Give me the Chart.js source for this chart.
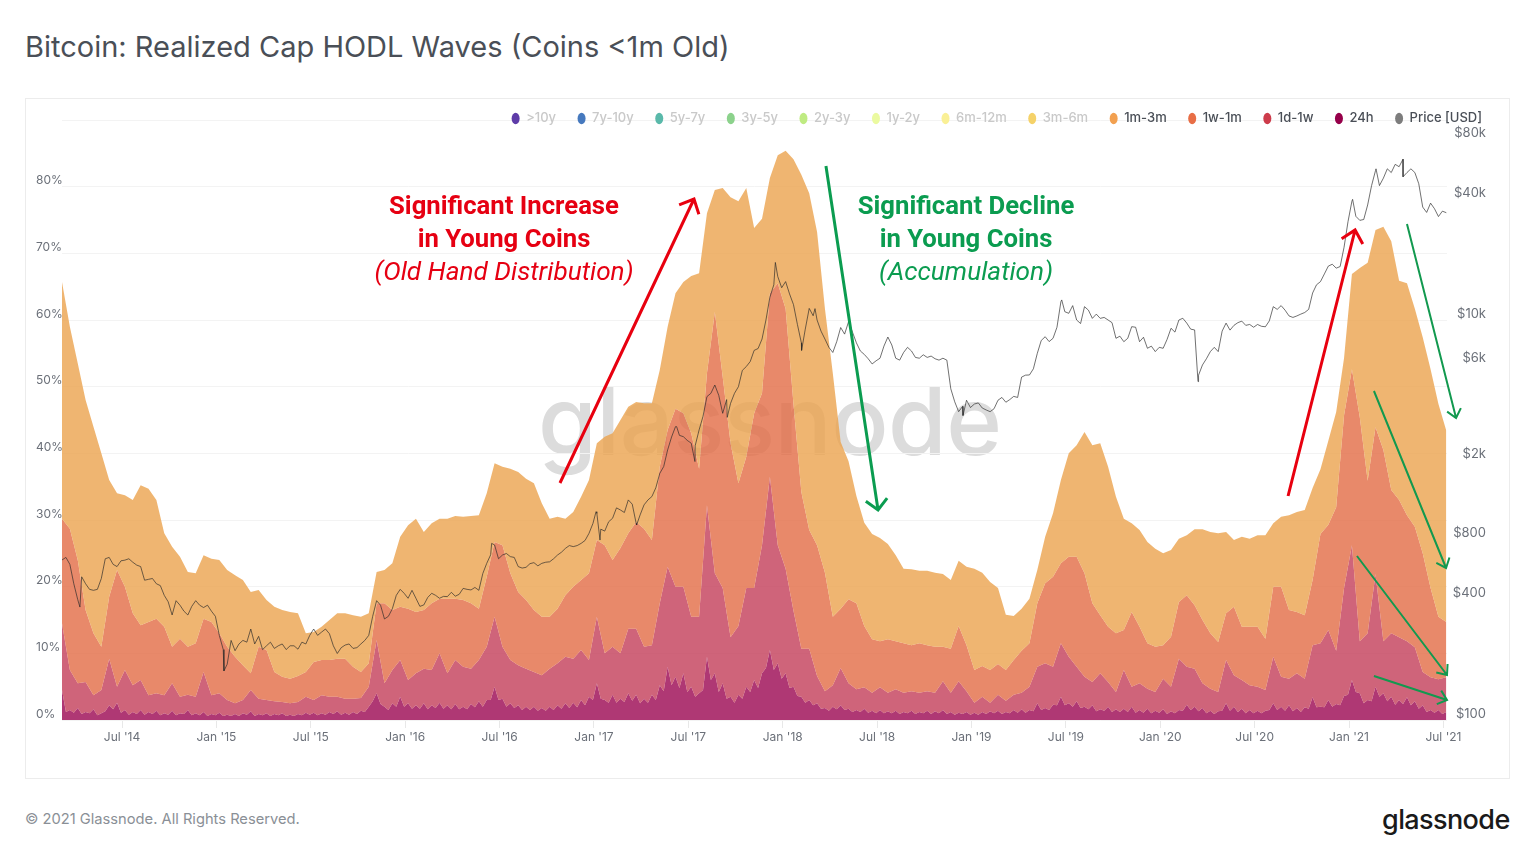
<!DOCTYPE html>
<html><head><meta charset="utf-8">
<script src="https://cdn.jsdelivr.net/npm/chart.js@4"></script>
<style>
html,body{margin:0;padding:0;background:#fff;width:1536px;height:860px;overflow:hidden}
.abs{position:absolute;white-space:nowrap}
#title{left:25px;top:29px;font:400 29px/36px Inter,sans-serif;color:#4a4f57}
#card{left:25px;top:98px;width:1483px;height:679px;border:1px solid #ececec;background:#fff}
#wm{left:538px;top:361px;font:500 95px/120px Inter,sans-serif;color:#dcdcdc;letter-spacing:-.5px}
#c{position:absolute;left:26px;top:99px}
.note{text-align:center;font:700 25.7px/33px Roboto,sans-serif;transform:translateX(-50%)}
.note i{font-weight:400;font-size:26.2px}
#n1{left:504px;top:189px;color:#e60012}
#n2{left:966px;top:189px;color:#0b9c50}
#foot{left:25px;top:810px;font:400 14.7px/18px Inter,sans-serif;color:#8a8f96}
#logo{left:1382px;top:802px;font:500 27px/36px Inter,sans-serif;color:#1a1a1a;letter-spacing:-.6px}
</style></head><body>
<div class="abs" id="title">Bitcoin: Realized Cap HODL Waves (Coins &lt;1m Old)</div>
<div class="abs" id="card"></div>
<div class="abs" id="wm">glassnode</div>
<canvas id="c" width="1483" height="679"></canvas>
<div class="abs note" id="n1">Significant Increase<br>in Young Coins<br><i>(Old Hand Distribution)</i></div>
<div class="abs note" id="n2">Significant Decline<br>in Young Coins<br><i>(Accumulation)</i></div>
<div class="abs" id="foot">© 2021 Glassnode. All Rights Reserved.</div>
<div class="abs" id="logo">glassnode</div>
<script>
// x positions are decimal years; samples are half-month apart
const startYear = 2014.182, endYear = 2021.519, sampleStep = 1/24;
const tickYears = [2014.5,2015,2015.5,2016,2016.5,2017,2017.5,2018,2018.5,2019,2019.5,2020,2020.5,2021,2021.5];
const tickLabels = ["Jul '14","Jan '15","Jul '15","Jan '16","Jul '16","Jan '17","Jul '17","Jan '18","Jul '18","Jan '19","Jul '19","Jan '20","Jul '20","Jan '21","Jul '21"];
const priceTicks = [100,400,800,2000,6000,10000,40000,80000];
const priceTickLabels = ["$100","$400","$800","$2k","$6k","$10k","$40k","$80k"];
const legendNames = [">10y","7y-10y","5y-7y","3y-5y","2y-3y","1y-2y","6m-12m","3m-6m","1m-3m","1w-1m","1d-1w","24h","Price [USD]"];
const legendColors = ["#5e3ca8","#4679be","#5ab9aa","#8cd28c","#bfeb82","#ebfaa0","#faf096","#f5d269","#f2a050","#e86e46","#cd3c4b","#96004a","#7d7d7d"];
const legendActive = [false,false,false,false,false,false,false,false,true,true,true,true,true];

// top edge of each stacked band, % of realized cap
const band1m3m = [65.7,59,53.5,48,44,40,36,34,33.7,33,35.2,34.7,33,28,26,24.5,22.2,22,24.7,24.2,
24,22.5,21.7,21,19.2,19.5,18,17,16.5,16.2,16,13,13.2,14,15,16,16,15.7,15.5,16,22.2,22.5,23.5,27.5,
29.2,30.2,28.2,29.5,30.2,30.2,30.6,30.5,30.6,30.7,34,38.5,38,37.7,37.2,36.2,35.5,32.5,30.2,30.5,30.2,31.2,33.5,36,41.5,42.5,43,45,47,47.7,47.5,47.5,52.5,59,64,65.7,66.6,
67,76,79.5,79.8,78.4,77.8,79.8,73.8,75.2,81.3,84.7,85.4,84.1,81.8,79,73.2,61.7,52,41.7,38.8,33.6,29.6,27.9,27.3,26.4,24.7,22.7,22.6,22.4,22.4,22.1,21.9,21,23.9,23,22.7,22.1,20.7,19.8,15.8,15.6,16.7,
18.2,22.5,27.5,31,36,40,41.2,43.2,41.2,41.5,38,33.5,30.2,29.5,28.5,26.7,25.7,25,25.5,27.2,27.7,28.6,28.6,28.2,28,28.2,27,27.5,27.2,27.7,27.7,29.5,30.5,30.7,31.2,31.5,
34.8,37.6,41.9,46.2,54.3,66.9,67.8,68.6,73.5,74,71.8,65.9,65.5,61.7,57.4,52.6,47.4,43.4];
const band1w1m = [30.2,28.7,24,16.5,13,11,18.5,22.5,20,16,14.2,14.7,15.2,14,11,12.2,11,11.5,15.2,14.7,13,11,9.5,8.2,7,11,10.5,7.2,6.5,6.2,6.6,7.2,8.7,9,9,9.2,9.2,8,7.2,8.5,17.5,17.5,16.5,17,
16.7,16.2,16.5,17.5,18.2,18.2,18.2,18,17.5,16.7,21.5,26.7,26.2,22,19.2,18,16.5,15.5,15.5,16.7,18.7,20,21,22,27,26.2,24,25.8,28,29.7,28.7,27,38,43.5,46.7,46,43,37.7,52,61.2,51.5,41.5,35.5,39.5,46,
49,64,65.5,61.7,47.4,34.2,28.5,26.2,22.1,15.5,16.7,18.1,17.5,14.1,12.1,11.8,12.1,11.8,11.5,11.2,11.5,11.2,11,11,10.7,14.1,11.2,7.5,8.1,7.5,8.4,7.5,9,10.4,
11.5,17.5,20.5,21.5,23.5,24.5,24.5,22,17.5,15.7,14,13,13.5,16.2,14,11.5,11,11.2,12.5,17.7,18.7,17.2,15,13,11.7,16,17,14,14,14,12.2,20,20,16.5,16.2,15.7,
21,27.9,29.3,31.9,45.7,52.6,45.4,35.9,43.9,40.5,34.5,33,30.7,29,25,19.8,15.5,14.7];
const band1d1w = [14.5,7.5,5.5,5.7,3.7,4.5,9.2,5,7.5,5.2,6,3.7,4,3.7,5.5,3.5,3.8,3.5,7.2,3.7,4,3,2.5,3,4.5,3.2,3,2.8,2.7,2.5,2.7,3.5,3,3.7,3.5,3.5,3.2,3.2,3.3,5,12,5.5,7.5,9,
6,7,7.7,7.5,10,7,9,8,7.7,9,11,15.5,11,9,8.2,7.7,7.2,6.7,7.7,8.5,9.5,9.2,10.5,9,15.5,10,11,10,13.7,13.7,11,11.2,17.5,23,20,20,15.5,15.5,32.2,22,19.8,12.4,14.1,19.8,19.8,
26.2,36.5,26.2,22.7,16.4,10.7,10.7,6.6,4.3,5.2,7.8,5.5,4.6,4.9,4.1,4.9,4.1,4.6,4.1,4.3,4.1,4.3,4.1,5.8,4.1,5.8,4.3,2.6,3.5,2.6,3.8,2.9,3.8,4.1,
5,8,8.5,8,11.5,9.5,8,6.5,5.7,7,5.7,4.2,7.5,5,5.5,4.7,4.2,6.2,5,9.2,8,7.7,5.5,4.7,4.2,9,6.7,6,5.2,5,4.5,9.5,6.5,6.2,7,6.2,
11.2,11.5,13.5,10.4,19.8,26.2,11.8,13,21.9,11.8,13,12.4,11.8,10.9,7.2,6.4,6.1,6.4];
const band24h = [4.5,1.5,1.8,1.2,1.6,1,2.2,2.6,1.5,1.2,1.5,1.2,1.4,1,1.4,1,1.5,1,1.2,.9,1.1,.8,.9,1,1.3,.9,1,.9,1,.8,.9,1.1,1.1,1,1.2,1.3,1.1,1.2,1.4,2,4,2,2.5,3.5,
2.5,2.2,2.5,2.2,2.6,2.2,2.4,2,2.4,2.8,3,5,3.2,2.5,2.2,2,2,1.8,2,2.2,2.5,2.6,3,3.5,5.5,3,3.8,3.2,4,3.8,3.2,3.8,5.2,8,6.5,7,5,4,9.5,7,5.5,3.5,3.8,5,6,
7,10.5,8.5,7,5,3.5,3,2.5,1.8,2,2.2,1.7,1.5,1.7,1.4,1.5,1.3,1.4,1.2,1.4,1.2,1.4,1.3,1.5,1.2,1.1,1.2,1.1,1.2,1.3,1.4,1.2,1.5,1.6,
1.5,2.5,1.8,2.3,3.5,2.5,2.8,2,2.2,1.6,2,1.6,1.7,2,1.5,1.7,1.4,1.6,1.3,1.5,2.3,2,1.8,1.4,1.3,2.5,2,1.7,1.5,1.4,1.4,2.5,2,2.2,1.8,1.9,
3.4,2,3,2.4,3.6,6,4,3,5,4,3.5,3,3.4,2.8,2.2,1.5,1.5,1.2];
// troughs of the 24h comb, read between the samples above
const band24hMid = [1.2,1.1,.9,1,.7,1.3,1.6,1.1,.8,.9,.8,.9,.7,.8,.7,.9,.7,.7,.6,.7,.6,.6,.6,.8,.6,.7,.6,.7,.6,.6,.7,.8,.7,.8,.9,.8,.8,.9,1.2,2.8,2.4,1.5,2,2,
1.7,1.7,1.6,1.8,1.7,1.6,1.6,1.6,1.9,2,3,3,2,1.8,1.5,1.5,1.4,1.4,1.5,1.7,1.8,1.9,2.2,3,3.2,2.6,2.6,2.7,2.9,2.5,2.6,3,4.3,5.2,4.8,4.2,3.5,4.5,6,4.2,3.2,2.6,3.2,4.2,4.8,
7.8,7.5,6.2,4.8,3.6,2.6,2.2,1.7,1.4,1.6,1.5,1.2,1.2,1.1,1,1,1,.9,1,.9,1,.9,1,.9,.8,.9,.8,.8,.9,1,.9,1,1.1,1.1,
1.3,1.5,1.5,2.2,2.2,2,1.8,1.6,1.3,1.4,1.2,1.2,1.2,1.1,1.1,1,1.1,.9,1,1.4,1.5,1.3,1,.9,1.4,1.4,1.2,1,1,1,1.5,1.5,1.4,1.3,1.2,1.7,
1.9,1.9,2,2.2,3.8,4.2,2.5,2.8,3.5,2.8,2.3,2.4,2.2,1.7,1.2,1.1,.9];
const priceUSD = [631,600,400,480,445,510,650,585,630,615,585,505,480,420,335,375,335,395,365,350,265,190,222,250,285,262,235,228,240,235,226,240,285,275,270,215,237,228,240,265,395,320,360,450,
406,406,376,430,406,414,416,455,447,445,607,750,668,656,585,580,612,607,618,668,721,736,764,857,1080,880,1020,1122,1260,962,1190,1310,1710,2240,2930,2610,2420,2820,4140,4730,3415,3830,4640,5850,7050,
8030,13000,16500,15560,11940,7690,11430,10000,8030,6880,9170,9790,7690,6730,6030,6440,8220,6440,6880,7000,6440,6500,6400,6440,4530,3480,3970,3800,3630,3480,3970,3880,4150,5180,
5310,6810,8250,8100,12350,10800,10000,11660,10190,10190,10000,8100,7790,9260,7790,7220,6950,7220,9090,10000,9650,8920,5960,6950,6950,9650,9400,9870,9500,9500,9250,11660,11800,10480,10480,10900,
13640,15550,18600,18170,23100,39300,31500,37600,55900,51200,54600,58400,54600,54600,36700,38400,32900,34400];
// price read between the half-month samples above
const priceMid = [650,480,520,450,450,640,600,625,640,595,500,510,470,390,395,350,370,375,375,330,225,250,240,245,240,225,245,235,225,235,245,265,265,285,235,230,240,230,250,330,375,330,420,430,
445,370,410,420,415,435,425,450,460,540,670,640,680,650,575,605,590,615,640,690,745,745,790,960,900,980,1150,1090,1200,1060,1260,1450,1850,2600,2650,2500,2350,3300,4300,4200,4000,4300,5600,6200,7200,
10000,15000,14500,13500,9500,9000,10500,8800,7300,7800,8500,8700,7000,6400,6250,7400,7500,6300,7300,6500,6700,6600,6300,6300,3900,3700,3650,3850,3550,3600,4100,4000,4100,5300,
5700,7900,7800,9200,11000,11800,9600,11200,10700,10300,9700,8300,8100,9200,8200,7400,7300,8000,8700,10200,9000,5300,6400,7300,8800,8900,9700,9400,9200,9300,9900,11300,11200,10300,10700,11300,
15000,17000,19000,18500,31000,33000,31800,47000,47000,57000,60000,52000,57000,48000,34500,36000,35000];
// sharp price extremes: year and value
const priceExtremeYears = [2014.277,2015.040,2016.458,2017.011,2017.032,2017.226,2017.438,2017.535,2017.706,2017.961,2018.100,2018.171,2018.955,2019.478,2020.200,2021.019,2021.143,2021.286];
const priceExtremeValues = [367,176,764,1100,794,944,2930,1960,3260,19400,7050,11400,3330,12600,4920,40100,57000,63700];

// arrows: [fromYear, fromPct, toYear, toPct]
const redArrows = [[2016.820,35.55,2017.530,78.15],[2020.677,33.6,2021.032,73.5]];
const greenArrowsWide = [[2018.229,83.1,2018.505,31.5]];
const greenArrowsThin = [[2021.307,74.4,2021.567,45.3],[2021.132,49.35,2021.514,22.8],[2021.042,24.6,2021.519,6.75],[2021.132,6.6,2021.519,3]];

const lens=[priceMid,band24hMid].map(a=>a.length);
if(lens.some(n=>n!==176)) throw new Error("lengths "+lens.join(","));

const xAt = i => Math.min(startYear+i*sampleStep,endYear);
const toPoints = a => a.map((v,i)=>({x:xAt(i),y:v}));
const withMid = (a,m) => toPoints(a).concat(m.map((v,i)=>({x:xAt(i+.5),y:v}))).sort((p,q)=>p.x-q.x);
const pricePoints = withMid(priceUSD,priceMid).concat(priceExtremeYears.map((x,i)=>({x,y:priceExtremeValues[i]}))).sort((p,q)=>p.x-q.x);
const area = (label,points,color,fill)=>({label,data:points,yAxisID:'y',backgroundColor:color,borderWidth:0,pointRadius:0,tension:0,fill});

const layoutPlugin = {
  id:'legendPlace',
  beforeLayout(chart){
    const l=chart.legend;
    if(l&&!l._wrapped){const f=l.fit;l.fit=function(){f.call(this);this.height=0;};l._wrapped=true;}
  },
  afterLayout(chart){ const l=chart.legend; if(!l) return; l.top=-8.5; l.bottom=40; l.height=48.5; l.right=1477.5; l.width=l.right-l.left; }
};
const arrowPlugin = {
  id:'arrows',
  afterDatasetsDraw(chart){
    const {ctx,scales:{x,y}}=chart;
    const draw=(list,color,w,head,ang)=>list.forEach(([a,b,c,d])=>{
      const x0=x.getPixelForValue(a),y0=y.getPixelForValue(b),x1=x.getPixelForValue(c),y1=y.getPixelForValue(d);
      const t=Math.atan2(y1-y0,x1-x0);
      ctx.save();ctx.strokeStyle=color;ctx.lineWidth=w;ctx.lineJoin='miter';
      ctx.beginPath();ctx.moveTo(x0,y0);ctx.lineTo(x1,y1);
      ctx.moveTo(x1-head*Math.cos(t-ang),y1-head*Math.sin(t-ang));ctx.lineTo(x1,y1);
      ctx.lineTo(x1-head*Math.cos(t+ang),y1-head*Math.sin(t+ang));ctx.stroke();ctx.restore();
    });
    draw(redArrows,'#e8000f',3,16,.75);
    draw(greenArrowsWide,'#0b9c50',3,15,.8);
    draw(greenArrowsThin,'#12994f',2,11,.7);
  }
};
new Chart(document.getElementById('c'),{
  type:'line',
  data:{datasets:[
    {label:'Price [USD]',data:pricePoints,yAxisID:'yPrice',borderColor:'rgba(40,40,40,.66)',borderWidth:1,pointRadius:0,tension:0,fill:false},
    area('1m-3m',toPoints(band1m3m),'rgba(235,162,78,.8)','+1'),
    area('1w-1m',toPoints(band1w1m),'rgba(226,108,69,.8)','+1'),
    area('1d-1w',toPoints(band1d1w),'rgba(195,61,89,.8)','+1'),
    area('24h',withMid(band24h,band24hMid),'rgba(155,6,81,.8)','origin')
  ]},
  plugins:[layoutPlugin,arrowPlugin],
  options:{
    responsive:false,animation:false,devicePixelRatio:1,
    layout:{padding:{left:10,right:23,top:21,bottom:0}},
    plugins:{
      tooltip:{enabled:false},
      legend:{position:'top',align:'end',labels:{
        usePointStyle:true,pointStyleWidth:8,boxHeight:8,padding:21.5,
        font:{family:'Inter',size:13,weight:'500'},
        generateLabels:()=>legendNames.map((t,i)=>({text:t,fillStyle:legendColors[i],strokeStyle:legendColors[i],lineWidth:0,pointStyle:'circle',hidden:false,fontColor:legendActive[i]?'#4a4f57':'#c9c9c9'}))
      }}
    },
    scales:{
      x:{type:'linear',min:startYear,max:endYear,
        afterBuildTicks:s=>{s.ticks=tickYears.map(v=>({value:v}));},
        afterFit:s=>{s.height=58;},
        border:{display:false},
        grid:{drawOnChartArea:false,drawTicks:true,tickLength:8,tickColor:'#e8e8e8'},
        ticks:{autoSkip:false,maxRotation:0,padding:2,color:'#6b7079',font:{family:'Inter',size:12},
          callback:v=>tickLabels[tickYears.indexOf(v)]}},
      y:{type:'linear',position:'left',min:0,max:90,
        afterFit:s=>{s.width=26;},
        border:{display:false},
        grid:{color:'#f3f3f3',drawTicks:false},
        ticks:{stepSize:10,crossAlign:'far',labelOffset:-6,padding:0,color:'#6b7079',font:{family:'Inter',size:12},
          callback:v=>v===90?'':v+'%'}},
      yPrice:{type:'logarithmic',position:'right',min:100,max:100000,
        afterBuildTicks:s=>{s.ticks=priceTicks.map(v=>({value:v}));},
        afterFit:s=>{s.width=39;},
        border:{display:false},
        grid:{display:false,drawTicks:false},
        ticks:{autoSkip:false,crossAlign:'far',labelOffset:-6,padding:0,color:'#6b7079',font:{family:'Inter',size:13},
          callback:v=>priceTickLabels[priceTicks.indexOf(v)]}}
    }
  }
});
</script>
</body></html>
